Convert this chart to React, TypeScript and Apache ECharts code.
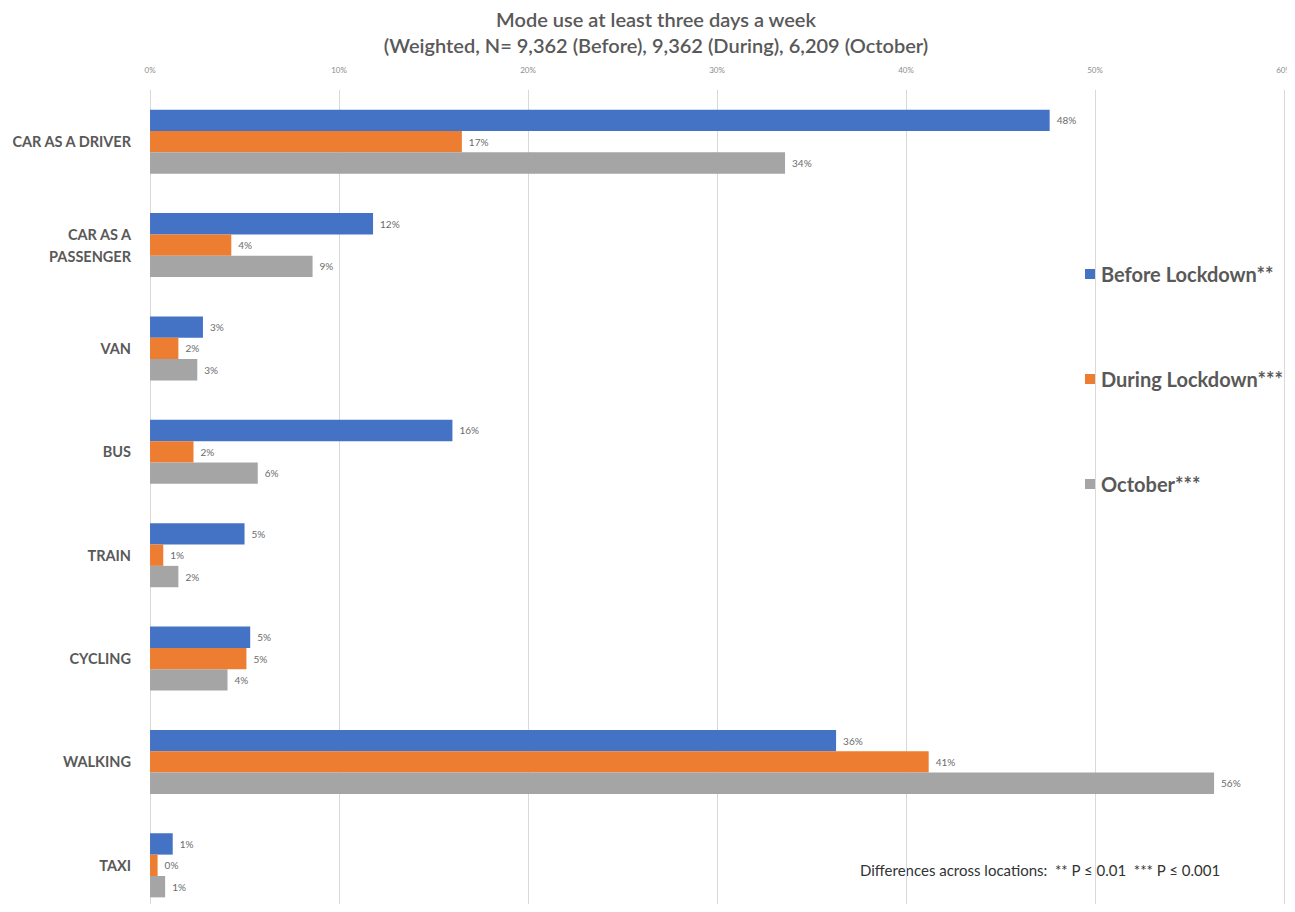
import React, { useEffect, useRef } from "react";
import * as echarts from "echarts";

const categories = [
  "CAR AS A DRIVER",
  "CAR AS A\nPASSENGER",
  "VAN",
  "BUS",
  "TRAIN",
  "CYCLING",
  "WALKING",
  "TAXI",
];
const seriesNames = ["Before Lockdown**", "During Lockdown***", "October***"];
const beforeValues = [47.6, 11.8, 2.8, 16.0, 5.0, 5.3, 36.3, 1.2];
const duringValues = [16.5, 4.3, 1.5, 2.3, 0.7, 5.1, 41.2, 0.4];
const octoberValues = [33.6, 8.6, 2.5, 5.7, 1.5, 4.1, 56.3, 0.8];
const colors = ["#4472C4", "#ED7D31", "#A5A5A5"];
const titleText = "Mode use at least three days a week";
const subtitleText = "(Weighted, N= 9,362 (Before), 9,362 (During), 6,209 (October)";
const footnote = "Differences across locations:  ** P \u2264 0.01  *** P \u2264 0.001";

const FONT = "Lato, 'Open Sans', sans-serif";

export default function App() {
  const ref = useRef<HTMLDivElement>(null);
  useEffect(() => {
    if (!ref.current) return;
    const chart = echarts.init(ref.current, undefined, { renderer: "svg" });
    const allValues = [beforeValues, duringValues, octoberValues];
    chart.setOption({
      animation: false,
      backgroundColor: "#ffffff",
      textStyle: { fontFamily: FONT },
      title: {
        text: titleText,
        subtext: subtitleText,
        left: "center",
        top: 0,
        padding: 0,
        itemGap: 5,
        textStyle: {
          fontFamily: FONT,
          fontSize: 20,
          fontWeight: 600,
          color: "#595959",
          lineHeight: 21,
        },
        subtextStyle: {
          fontFamily: FONT,
          fontSize: 20,
          fontWeight: 600,
          color: "#595959",
          lineHeight: 22,
        },
      },
      legend: {
        orient: "vertical",
        left: 1072,
        top: 251,
        itemGap: 85,
        itemWidth: 10,
        itemHeight: 10,
        icon: "rect",
        data: seriesNames,
        textStyle: {
          fontFamily: FONT,
          fontSize: 20,
          fontWeight: "bold",
          color: "#595959",
          padding: [0, 0, 0, 1],
        },
      },
      grid: {
        left: 137,
        top: 82,
        width: 1139,
        height: 827,
        containLabel: false,
      },
      xAxis: {
        type: "value",
        position: "top",
        min: 0,
        max: 60,
        interval: 10,
        axisLine: { show: false },
        axisTick: { show: false },
        axisLabel: {
          formatter: "{value}%",
          fontSize: 8,
          color: "#8c8c8c",
          margin: 16,
        },
        splitLine: { lineStyle: { color: "#d9d9d9", width: 1 } },
      },
      yAxis: {
        type: "category",
        inverse: true,
        data: categories,
        axisLine: { show: true, lineStyle: { color: "#d9d9d9" } },
        axisTick: { show: false },
        axisLabel: {
          fontFamily: FONT,
          fontSize: 14.5,
          fontWeight: "bold",
          color: "#595959",
          margin: 19,
          lineHeight: 22,
        },
      },
      series: seriesNames.map((name, i) => ({
        name,
        type: "bar",
        data: allValues[i],
        itemStyle: { color: colors[i] },
        barGap: "0%",
        barCategoryGap: "38%",
        label: {
          show: true,
          position: "right",
          distance: 7,
          fontSize: 10,
          color: "#6b6b6b",
          formatter: (p: any) => Math.round(p.value) + "%",
        },
      })),
      graphic: [
        {
          type: "text",
          left: 852,
          top: 854,
          style: {
            text: footnote,
            fontFamily: FONT,
            fontSize: 15,
            fill: "#333333",
          },
        },
      ],
    });
    return () => chart.dispose();
  }, []);
  return (
    <div style={{ width: 1287, height: 896, overflow: "hidden" }}>
      <div ref={ref} style={{ width: 1296, height: 930 }} />
    </div>
  );
}
